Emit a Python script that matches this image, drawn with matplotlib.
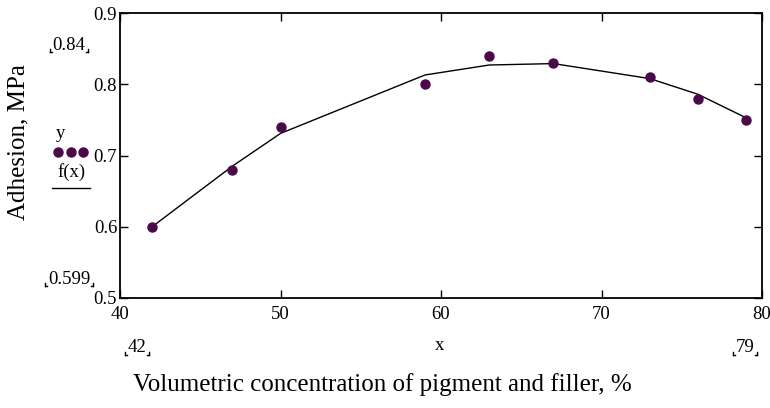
import matplotlib.pyplot as plt
from matplotlib.lines import Line2D

plt.rcParams['font.family'] = ['Liberation Serif', 'DejaVu Serif']

# Measured data (y) and fitted curve f(x)
x = [42, 47, 50, 59, 63, 67, 73, 76, 79]
y = [0.60, 0.68, 0.74, 0.80, 0.84, 0.83, 0.81, 0.78, 0.75]
fx = [0.600, 0.685, 0.731, 0.813, 0.827, 0.829, 0.808, 0.786, 0.753]

xticks = [40, 50, 60, 70, 80]
yticks = [0.5, 0.6, 0.7, 0.8, 0.9]

fig = plt.figure(figsize=(7.7, 4.08), dpi=100)
ax = fig.add_axes([120 / 770, 1 - 298 / 408, 642 / 770, 285 / 408])

ax.plot(x, fx, color='black', lw=1)
ax.plot(x, y, 'o', color='#4a0a4a', ms=6.5, ls='none')

ax.set_xlim(40, 80)
ax.set_ylim(0.5, 0.9)
ax.set_xticks(xticks)
ax.set_yticks(yticks)
ax.set_xticklabels([str(v) for v in xticks])
ax.set_yticklabels([str(v) for v in yticks])
ax.tick_params(direction='in', top=True, right=True, length=6, width=1,
               labelsize=13.5)
ax.tick_params(axis='x', pad=6)
ax.tick_params(axis='y', pad=2)
for s in ax.spines.values():
    s.set_linewidth(1.3)

# Mathcad-style axis limit markers
fig.canvas.draw()
r = fig.canvas.get_renderer()
for px, py, txt in [(69, 45, '0.84'), (69, 279, '0.599'), (137, 348, '42'), (745, 348, '79')]:
    t = fig.text(px / 770, 1 - py / 408, txt, fontsize=13.5, ha='center', va='center')
    bb = t.get_window_extent(r)
    x0, x1 = bb.x0 - 3, bb.x1 + 3
    yb = bb.y0 + 2
    for xe, d in [(x0, 1), (x1, -1)]:
        fig.add_artist(Line2D([xe / 770, xe / 770], [yb / 408, (yb + 3) / 408], color='black', lw=1))
        fig.add_artist(Line2D([xe / 770, (xe + d * 2) / 770], [yb / 408, yb / 408], color='black', lw=1))

fig.text(440 / 770, 1 - 345 / 408, 'x', fontsize=13.5, ha='center', va='center')
fig.text(382 / 770, 1 - 385 / 408, 'Volumetric concentration of pigment and filler, %',
         fontsize=18, ha='center', va='center')
fig.text(18 / 770, 1 - 142 / 408, 'Adhesion, MPa', fontsize=18, rotation=90,
         ha='center', va='center')

# legend at left
fig.text(61 / 770, 1 - 133 / 408, 'y', fontsize=13.5, ha='center', va='center')
fig.add_artist(Line2D([58 / 770, 70.5 / 770, 83 / 770], [1 - 152 / 408] * 3, ls='none',
                      marker='o', ms=6.5, color='#4a0a4a'))
fig.text(72 / 770, 1 - 172 / 408, 'f(x)', fontsize=13.5, ha='center', va='center')
fig.add_artist(Line2D([52 / 770, 90 / 770], [1 - 188 / 408] * 2, color='black', lw=1))

fig.savefig('out.png', dpi=100)
